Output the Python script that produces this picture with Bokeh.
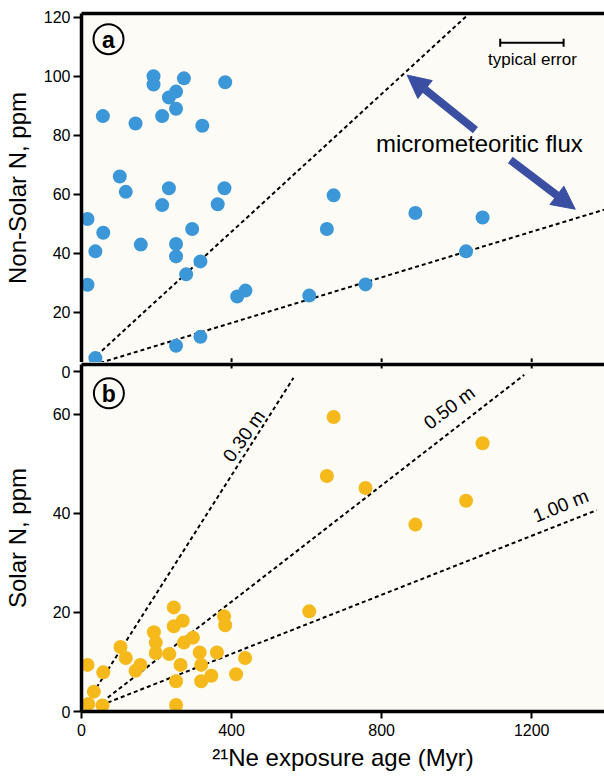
from bokeh.plotting import figure
from bokeh.layouts import column
from bokeh.models import Range1d, LinearAxis, FixedTicker, Arrow, NormalHead, Whisker, TeeHead
from bokeh.core.properties import value
from bokeh.embed import file_html
from bokeh.resources import INLINE

FONT = "Liberation Sans"
BG = "#fcfbf5"
BLUE = "#3b97d7"
YELLOW = "#f6b91b"
ARROW = "#3a4fa2"

# ---------------- data ----------------
# panel a: non-solar N vs 21Ne exposure age
age_a = [57, 192, 192, 273, 383, 233, 252, 215, 252, 144, 322, 102, 118, 233, 381,
         215, 363, 16, 58, 295, 158, 252, 37, 252, 317, 279, 16, 415, 437, 252, 317, 37,
         672, 654, 890, 1069, 1025, 757, 607]
nonsolar_n = [86.5, 100.0, 97.2, 99.3, 98.0, 92.8, 94.8, 86.5, 89.0, 84.0, 83.2, 66.0, 60.8, 62.0, 62.0,
              56.3, 56.6, 51.6, 46.9, 48.2, 42.9, 43.1, 40.6, 38.9, 37.2, 32.8, 29.3, 25.3, 27.3, 8.6, 11.6, 4.4,
              59.6, 48.2, 53.6, 52.1, 40.6, 29.4, 25.6]

# panel b: solar N vs 21Ne exposure age
age_b = [16, 18, 33, 56, 58, 104, 118, 144, 157, 193, 198, 198, 234, 246, 246, 270, 273, 297,
         264, 252, 252, 315, 319, 319, 346, 361, 380, 383, 412, 436,
         607, 654, 672, 757, 890, 1025, 1069]
solar_n = [9.4, 1.5, 4.0, 1.2, 7.9, 13.0, 10.8, 8.2, 9.4, 16.0, 13.9, 11.8, 11.6, 21.0, 17.2, 18.3, 13.9, 14.9,
           9.4, 6.1, 1.3, 11.9, 9.4, 6.1, 7.2, 11.9, 19.2, 17.4, 7.5, 10.8,
           20.2, 47.5, 59.4, 45.1, 37.7, 42.5, 54.1]

# micrometeoritic flux reference lines (panel a), endpoints
flux_hi_x = [27, 1050]
flux_hi_y = [3.7, 123.2]
flux_lo_x = [50, 1400]
flux_lo_y = [2.8, 55.0]

# burial-depth reference lines (panel b), endpoints
depth_labels = ["0.30 m", "0.50 m", "1.00 m"]
depth_x = [[40, 565], [70, 1180], [70, 1373]]
depth_y = [[4.8, 67.3], [2.8, 67.9], [1.8, 40.6]]
depth_label_x = [433, 980, 1277]
depth_label_y = [55.6, 61.3, 41.5]
depth_label_angle = [0.96, 0.645, 0.385]

ticks_a = [20, 40, 60, 80, 100, 120]
ticks_b = [0, 20, 40, 60]
ticks_x = [0, 400, 800, 1200]

YA = (2.9, 121.3)
YB = (0, 70)
xr = Range1d(0, 1394)


def style_left(ax, standoff):
    ax.axis_line_width = 3.5
    ax.axis_line_color = "black"
    ax.major_tick_out = 8
    ax.major_tick_in = 0
    ax.major_tick_line_width = 2
    ax.minor_tick_out = 0
    ax.minor_tick_in = 0
    ax.major_label_standoff = 3
    ax.major_label_text_font = FONT
    ax.major_label_text_font_size = "16px"
    ax.major_label_text_color = "black"
    ax.axis_label_text_font = FONT
    ax.axis_label_text_font_size = "24px"
    ax.axis_label_text_font_style = "normal"
    ax.axis_label_text_color = "black"
    ax.axis_label_standoff = standoff


def border_axis():
    return LinearAxis(ticker=FixedTicker(ticks=[]), axis_line_width=3.5, axis_line_color="black",
                      major_tick_out=0, major_tick_in=0, minor_tick_out=0, minor_tick_in=0,
                      major_label_standoff=0)


# ---------------- panel a ----------------
p1 = figure(width=604, height=362, x_range=xr, y_range=Range1d(*YA),
            output_backend="svg", toolbar_location=None, x_axis_location=None,
            min_border_left=80, min_border_right=0, min_border_top=13, min_border_bottom=0,
            background_fill_color=BG, border_fill_color="white", outline_line_color=None)
p1.grid.visible = False
p1.yaxis.ticker = FixedTicker(ticks=ticks_a)
p1.yaxis.axis_label = "Non-Solar N, ppm"
style_left(p1.yaxis[0], 10)
p1.add_layout(border_axis(), "above")

# short inward ticks on panel a's bottom edge
p1.segment(x0=ticks_x[1:], y0=[YA[0]] * 3, x1=ticks_x[1:], y1=[YA[0] + 1.4] * 3,
           line_color="black", line_width=2)

p1.line(flux_hi_x, flux_hi_y, line_color="black", line_width=2, line_dash="4 3")
p1.line(flux_lo_x, flux_lo_y, line_color="black", line_width=2, line_dash="4 3")
p1.scatter(age_a, nonsolar_n, size=14, marker="circle", fill_color=BLUE, line_color=None)

p1.scatter([72], [112.6], size=30, marker="circle", fill_color=BG, line_color="black", line_width=2)
p1.text([72], [112.3], text=["a"], text_font=value(FONT), text_font_size="23px", text_font_style="bold",
        text_align="center", text_baseline="middle", text_color="black")

p1.add_layout(Whisker(dimension="width", base=111.4, lower=1116, upper=1285, line_width=2, line_color="black",
                      lower_head=TeeHead(size=8, line_width=2, line_color="black"),
                      upper_head=TeeHead(size=8, line_width=2, line_color="black")))
p1.text([1202], [105.7], text=["typical error"], text_font=value(FONT), text_font_size="17px",
        text_align="center", text_baseline="middle", text_color="black")

p1.text([785], [77.2], text=["micrometeoritic flux"], text_font=value(FONT), text_font_size="24px",
        text_align="left", text_baseline="middle", text_color="black")
p1.add_layout(Arrow(end=NormalHead(size=23, fill_color=ARROW, line_color=ARROW),
                    x_start=1050, y_start=81.7, x_end=868, y_end=100.4, line_width=8, line_color=ARROW))
p1.add_layout(Arrow(end=NormalHead(size=23, fill_color=ARROW, line_color=ARROW),
                    x_start=1143, y_start=71.6, x_end=1316, y_end=54.9, line_width=8, line_color=ARROW))

# ---------------- panel b ----------------
p2 = figure(width=604, height=414, x_range=xr, y_range=Range1d(*YB),
            output_backend="svg", toolbar_location=None,
            min_border_left=80, min_border_right=0, min_border_top=2, min_border_bottom=65,
            background_fill_color=BG, border_fill_color="white", outline_line_color=None)
p2.grid.visible = False
# extra tick: zero of panel a's scale, which falls just below panel a's frame
p2.yaxis.ticker = FixedTicker(ticks=ticks_b + [68.5])
p2.yaxis.major_label_overrides = {68.5: "0"}
p2.yaxis.axis_label = "Solar N, ppm"
style_left(p2.yaxis[0], 19)

xa = p2.xaxis[0]
xa.ticker = FixedTicker(ticks=ticks_x)
xa.axis_line_width = 3.5
xa.major_tick_out = 7
xa.major_tick_in = 0
xa.major_tick_line_width = 2
xa.minor_tick_out = 0
xa.minor_tick_in = 0
xa.major_label_standoff = 5
xa.major_label_text_font = FONT
xa.major_label_text_font_size = "16px"
xa.major_label_text_color = "black"
xa.axis_label = "\u00b2\u00b9Ne exposure age (Myr)"
xa.axis_label_text_font = FONT
xa.axis_label_text_font_size = "24px"
xa.axis_label_text_font_style = "normal"
xa.axis_label_text_color = "black"
xa.axis_label_standoff = 5

p2.add_layout(border_axis(), "above")
# short inward ticks on panel b's top edge
p2.segment(x0=ticks_x[1:], y0=[YB[1]] * 3, x1=ticks_x[1:], y1=[YB[1] - 0.8] * 3,
           line_color="black", line_width=2)

for lx, ly in zip(depth_x, depth_y):
    p2.line(lx, ly, line_color="black", line_width=2, line_dash="4 3")
p2.scatter(age_b, solar_n, size=14, marker="circle", fill_color=YELLOW, line_color=None)
p2.text(depth_label_x, depth_label_y, text=depth_labels, angle=depth_label_angle,
        text_font=value(FONT), text_font_size="19px", text_align="center", text_baseline="middle",
        text_color="black")

p2.scatter([73], [64.2], size=30, marker="circle", fill_color=BG, line_color="black", line_width=2)
p2.text([73], [64.0], text=["b"], text_font=value(FONT), text_font_size="23px", text_font_style="bold",
        text_align="center", text_baseline="middle", text_color="black")

layout = column(p1, p2, spacing=0)
open("out.html", "w").write(file_html(layout, INLINE))
